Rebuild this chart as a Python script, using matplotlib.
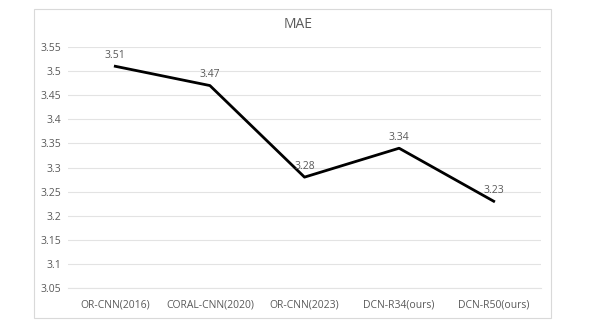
import matplotlib
matplotlib.use('Agg')
import matplotlib.pyplot as plt
from matplotlib.patches import Rectangle

# data
methods = ['OR-CNN(2016)', 'CORAL-CNN(2020)', 'OR-CNN(2023)', 'DCN-R34(ours)', 'DCN-R50(ours)']
mae = [3.51, 3.47, 3.28, 3.34, 3.23]
yticks = [3.05, 3.1, 3.15, 3.2, 3.25, 3.3, 3.35, 3.4, 3.45, 3.5, 3.55]
ytick_labels = ['3.05', '3.1', '3.15', '3.2', '3.25', '3.3', '3.35', '3.4', '3.45', '3.5', '3.55']

plt.rcParams['font.family'] = ['Open Sans', 'DejaVu Sans']
gray = '#595959'

fig = plt.figure(figsize=(5.97, 3.31), dpi=100)
fig.patch.set_facecolor('white')

# chart frame
fig.patches.append(Rectangle((34 / 597, 13 / 331), 517 / 597, 309 / 331,
                             transform=fig.transFigure, facecolor='none',
                             edgecolor='#d9d9d9', linewidth=0.8))

ax = fig.add_axes([68 / 597, 43 / 331, 473 / 597, 241 / 331])
x = list(range(len(methods)))
ax.plot(x, mae, color='black', linewidth=2)
for xi, v in zip(x, mae):
    ax.annotate(f'{v:.2f}', (xi, v), xytext=(0, 4), textcoords='offset points',
                ha='center', va='bottom', fontsize=7.5, color=gray)

ax.set_xlim(-0.5, len(methods) - 0.5)
ax.set_ylim(3.05, 3.55)
ax.set_yticks(yticks)
ax.set_yticklabels(ytick_labels)
ax.set_xticks(x)
ax.set_xticklabels(methods)
ax.tick_params(axis='both', length=0, labelsize=7.5, labelcolor=gray)
ax.tick_params(axis='x', pad=8)
ax.tick_params(axis='y', pad=5)
ax.grid(axis='y', color='#e3e3e3', linewidth=0.8)
ax.set_axisbelow(True)
for s in ['top', 'right', 'left']:
    ax.spines[s].set_visible(False)
ax.spines['bottom'].set_color('#e3e3e3')
ax.spines['bottom'].set_linewidth(0.8)

fig.text(0.5, 1 - 24 / 331, 'MAE', ha='center', va='center', fontsize=10, color=gray)

fig.savefig('out.png', dpi=100)
